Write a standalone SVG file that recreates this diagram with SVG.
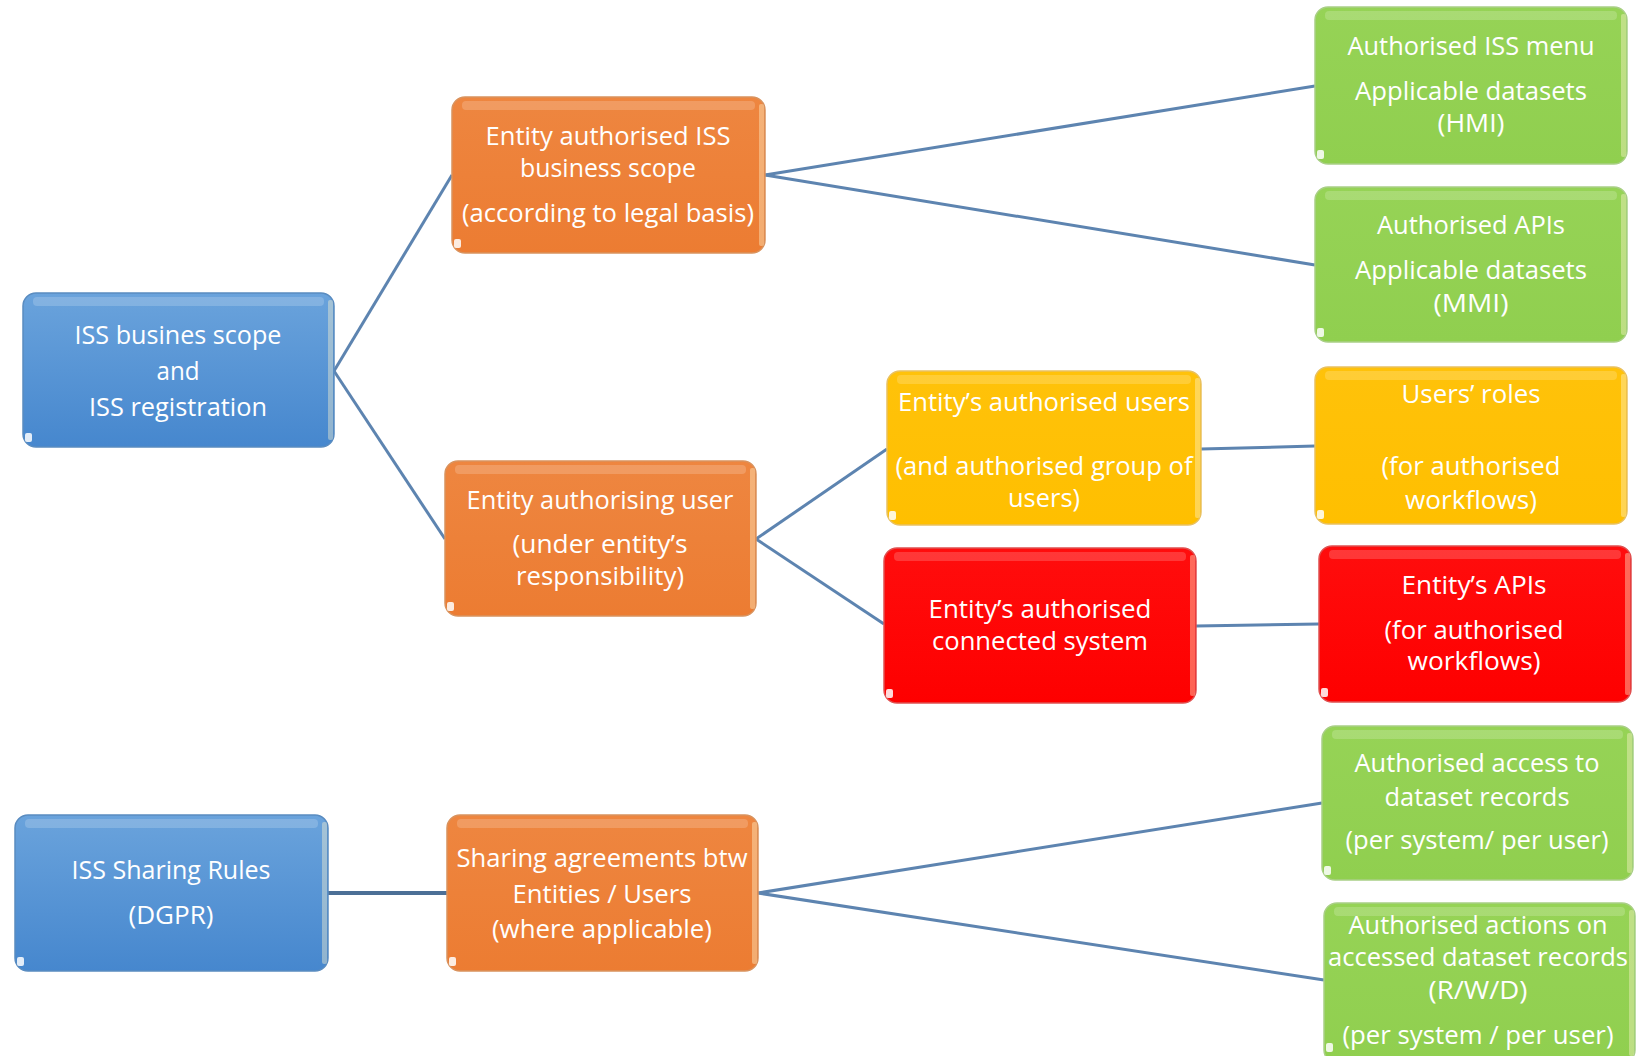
<svg xmlns="http://www.w3.org/2000/svg" width="1637" height="1056" viewBox="0 0 1637 1056">
<defs>
<linearGradient id="gBlue" x1="0" y1="0" x2="0" y2="1"><stop offset="0" stop-color="#6aa3dc"/><stop offset="1" stop-color="#4687ce"/></linearGradient>
<linearGradient id="gOrange" x1="0" y1="0" x2="0" y2="1"><stop offset="0" stop-color="#ee8640"/><stop offset="1" stop-color="#ec7c32"/></linearGradient>
<linearGradient id="gGreen" x1="0" y1="0" x2="0" y2="1"><stop offset="0" stop-color="#96d356"/><stop offset="1" stop-color="#90cf4f"/></linearGradient>
<linearGradient id="gYellow" x1="0" y1="0" x2="0" y2="1"><stop offset="0" stop-color="#ffc20a"/><stop offset="1" stop-color="#ffbf00"/></linearGradient>
<linearGradient id="gRed" x1="0" y1="0" x2="0" y2="1"><stop offset="0" stop-color="#ff0d0d"/><stop offset="1" stop-color="#fe0000"/></linearGradient>
</defs>
<style>
.box{stroke-width:1.5}
.blue{fill:url(#gBlue);stroke:#5a8cc0}
.orange{fill:url(#gOrange);stroke:#d9935e}
.green{fill:url(#gGreen);stroke:#a9cf86}
.yellow{fill:url(#gYellow);stroke:#e9c160}
.red{fill:url(#gRed);stroke:#e05050}
.hl{fill:#ffffff;opacity:0.18}
.edge{fill:#fff6d0;opacity:0.4}
.notch{fill:#ffffff;opacity:0.85}
text{font-family:"Open Sans","Noto Sans","Liberation Sans",sans-serif;font-size:25px;fill:#ffffff;text-anchor:middle}
.conn line{stroke:#5d84b0;stroke-width:3;fill:none}
</style>
<g class="conn" id="connectors">
<line x1="334" y1="371" x2="452" y2="175"/>
<line x1="334" y1="371" x2="445" y2="539"/>
<line x1="765" y1="175" x2="1315" y2="86"/>
<line x1="765" y1="175" x2="1315" y2="265"/>
<line x1="756" y1="539" x2="887" y2="449"/>
<line x1="756" y1="539" x2="884" y2="624"/>
<line x1="1201" y1="449" x2="1315" y2="446"/>
<line x1="1196" y1="626" x2="1319" y2="624"/>
<line x1="328" y1="893" x2="447" y2="893" style="stroke:#4c6f96;stroke-width:4"/>
<line x1="758" y1="893" x2="1322" y2="803"/>
<line x1="758" y1="893" x2="1324" y2="980"/>
</g>
<g id="n-blue1">
<rect class="box blue" x="23" y="293" width="311" height="154" rx="13"/>
<rect class="hl" x="33" y="297" width="291" height="9" rx="4"/>
<rect class="edge" x="328" y="300" width="5" height="140" rx="2"/>
<rect class="notch" x="25" y="433" width="7" height="9" rx="2"/>
<text x="178" y="344" textLength="207" lengthAdjust="spacingAndGlyphs">ISS busines scope</text>
<text x="178" y="380" textLength="43" lengthAdjust="spacingAndGlyphs">and</text>
<text x="178" y="416" textLength="178" lengthAdjust="spacingAndGlyphs">ISS registration</text>
</g>
<g id="n-orange1">
<rect class="box orange" x="452" y="97" width="313" height="156" rx="13"/>
<rect class="hl" x="462" y="101" width="293" height="9" rx="4"/>
<rect class="edge" x="759" y="104" width="5" height="142" rx="2"/>
<rect class="notch" x="454" y="239" width="7" height="9" rx="2"/>
<text x="608" y="145" textLength="245" lengthAdjust="spacingAndGlyphs">Entity authorised ISS</text>
<text x="608" y="177" textLength="176" lengthAdjust="spacingAndGlyphs">business scope</text>
<text x="608" y="222" textLength="292" lengthAdjust="spacingAndGlyphs">(according to legal basis)</text>
</g>
<g id="n-green1">
<rect class="box green" x="1315" y="7" width="312" height="157" rx="13"/>
<rect class="hl" x="1325" y="11" width="292" height="9" rx="4"/>
<rect class="edge" x="1621" y="14" width="5" height="143" rx="2"/>
<rect class="notch" x="1317" y="150" width="7" height="9" rx="2"/>
<text x="1471" y="55" textLength="247" lengthAdjust="spacingAndGlyphs">Authorised ISS menu</text>
<text x="1471" y="100" textLength="232" lengthAdjust="spacingAndGlyphs">Applicable datasets</text>
<text x="1471" y="132" textLength="67" lengthAdjust="spacingAndGlyphs">(HMI)</text>
</g>
<g id="n-green2">
<rect class="box green" x="1315" y="187" width="312" height="155" rx="13"/>
<rect class="hl" x="1325" y="191" width="292" height="9" rx="4"/>
<rect class="edge" x="1621" y="194" width="5" height="141" rx="2"/>
<rect class="notch" x="1317" y="328" width="7" height="9" rx="2"/>
<text x="1471" y="234" textLength="188" lengthAdjust="spacingAndGlyphs">Authorised APIs</text>
<text x="1471" y="279" textLength="232" lengthAdjust="spacingAndGlyphs">Applicable datasets</text>
<text x="1471" y="312" textLength="75" lengthAdjust="spacingAndGlyphs">(MMI)</text>
</g>
<g id="n-yellow1">
<rect class="box yellow" x="887" y="371" width="314" height="154" rx="13"/>
<rect class="hl" x="897" y="375" width="294" height="9" rx="4"/>
<rect class="edge" x="1195" y="378" width="5" height="140" rx="2"/>
<rect class="notch" x="889" y="511" width="7" height="9" rx="2"/>
<text x="1044" y="411" textLength="292" lengthAdjust="spacingAndGlyphs">Entity’s authorised users</text>
<text x="1044" y="475" textLength="297" lengthAdjust="spacingAndGlyphs">(and authorised group of</text>
<text x="1044" y="507" textLength="72" lengthAdjust="spacingAndGlyphs">users)</text>
</g>
<g id="n-yellow2">
<rect class="box yellow" x="1315" y="367" width="312" height="157" rx="13"/>
<rect class="hl" x="1325" y="371" width="292" height="9" rx="4"/>
<rect class="edge" x="1621" y="374" width="5" height="143" rx="2"/>
<rect class="notch" x="1317" y="510" width="7" height="9" rx="2"/>
<text x="1471" y="403" textLength="139" lengthAdjust="spacingAndGlyphs">Users’ roles</text>
<text x="1471" y="475" textLength="179" lengthAdjust="spacingAndGlyphs">(for authorised</text>
<text x="1471" y="509" textLength="132" lengthAdjust="spacingAndGlyphs">workflows)</text>
</g>
<g id="n-orange2">
<rect class="box orange" x="445" y="461" width="311" height="155" rx="13"/>
<rect class="hl" x="455" y="465" width="291" height="9" rx="4"/>
<rect class="edge" x="750" y="468" width="5" height="141" rx="2"/>
<rect class="notch" x="447" y="602" width="7" height="9" rx="2"/>
<text x="600" y="509" textLength="267" lengthAdjust="spacingAndGlyphs">Entity authorising user</text>
<text x="600" y="553" textLength="175" lengthAdjust="spacingAndGlyphs">(under entity’s</text>
<text x="600" y="585" textLength="168" lengthAdjust="spacingAndGlyphs">responsibility)</text>
</g>
<g id="n-red1">
<rect class="box red" x="884" y="548" width="312" height="155" rx="13"/>
<rect class="hl" x="894" y="552" width="292" height="9" rx="4"/>
<rect class="edge" x="1190" y="555" width="5" height="141" rx="2"/>
<rect class="notch" x="886" y="689" width="7" height="9" rx="2"/>
<text x="1040" y="618" textLength="223" lengthAdjust="spacingAndGlyphs">Entity’s authorised</text>
<text x="1040" y="650" textLength="216" lengthAdjust="spacingAndGlyphs">connected system</text>
</g>
<g id="n-red2">
<rect class="box red" x="1319" y="546" width="312" height="156" rx="13"/>
<rect class="hl" x="1329" y="550" width="292" height="9" rx="4"/>
<rect class="edge" x="1625" y="553" width="5" height="142" rx="2"/>
<rect class="notch" x="1321" y="688" width="7" height="9" rx="2"/>
<text x="1474" y="594" textLength="145" lengthAdjust="spacingAndGlyphs">Entity’s APIs</text>
<text x="1474" y="639" textLength="179" lengthAdjust="spacingAndGlyphs">(for authorised</text>
<text x="1474" y="670" textLength="133" lengthAdjust="spacingAndGlyphs">workflows)</text>
</g>
<g id="n-blue2">
<rect class="box blue" x="15" y="815" width="313" height="156" rx="13"/>
<rect class="hl" x="25" y="819" width="293" height="9" rx="4"/>
<rect class="edge" x="322" y="822" width="5" height="142" rx="2"/>
<rect class="notch" x="17" y="957" width="7" height="9" rx="2"/>
<text x="171" y="879" textLength="199" lengthAdjust="spacingAndGlyphs">ISS Sharing Rules</text>
<text x="171" y="924" textLength="85" lengthAdjust="spacingAndGlyphs">(DGPR)</text>
</g>
<g id="n-orange3">
<rect class="box orange" x="447" y="815" width="311" height="156" rx="13"/>
<rect class="hl" x="457" y="819" width="291" height="9" rx="4"/>
<rect class="edge" x="752" y="822" width="5" height="142" rx="2"/>
<rect class="notch" x="449" y="957" width="7" height="9" rx="2"/>
<text x="602" y="867" textLength="291" lengthAdjust="spacingAndGlyphs">Sharing agreements btw</text>
<text x="602" y="903" textLength="179" lengthAdjust="spacingAndGlyphs">Entities / Users</text>
<text x="602" y="938" textLength="220" lengthAdjust="spacingAndGlyphs">(where applicable)</text>
</g>
<g id="n-green3">
<rect class="box green" x="1322" y="726" width="311" height="154" rx="13"/>
<rect class="hl" x="1332" y="730" width="291" height="9" rx="4"/>
<rect class="edge" x="1627" y="733" width="5" height="140" rx="2"/>
<rect class="notch" x="1324" y="866" width="7" height="9" rx="2"/>
<text x="1477" y="772" textLength="245" lengthAdjust="spacingAndGlyphs">Authorised access to</text>
<text x="1477" y="806" textLength="185" lengthAdjust="spacingAndGlyphs">dataset records</text>
<text x="1477" y="849" textLength="263" lengthAdjust="spacingAndGlyphs">(per system/ per user)</text>
</g>
<g id="n-green4">
<rect class="box green" x="1324" y="903" width="311" height="160" rx="13"/>
<rect class="hl" x="1334" y="907" width="291" height="9" rx="4"/>
<rect class="edge" x="1629" y="910" width="5" height="146" rx="2"/>
<rect class="notch" x="1326" y="1043" width="7" height="9" rx="2"/>
<text x="1478" y="934" textLength="259" lengthAdjust="spacingAndGlyphs">Authorised actions on</text>
<text x="1478" y="966" textLength="300" lengthAdjust="spacingAndGlyphs">accessed dataset records</text>
<text x="1478" y="999" textLength="99" lengthAdjust="spacingAndGlyphs">(R/W/D)</text>
<text x="1478" y="1044" textLength="271" lengthAdjust="spacingAndGlyphs">(per system / per user)</text>
</g>
</svg>
